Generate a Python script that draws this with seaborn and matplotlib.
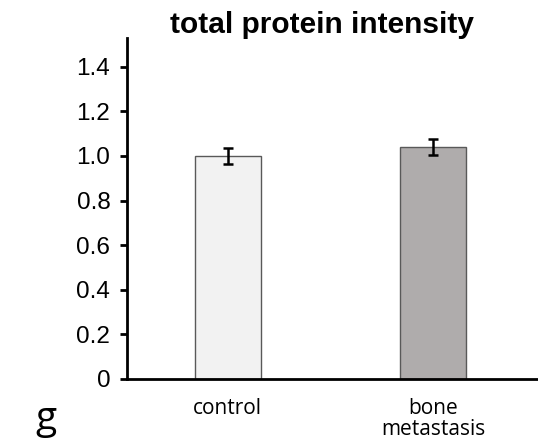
import matplotlib
matplotlib.use("Agg")
import matplotlib.pyplot as plt
import seaborn as sns
import pandas as pd

groups = ["control", "bone\nmetastasis"]
means = [1.0, 1.04]
errors = [0.035, 0.034]
colors = ["#f2f2f2", "#afabab"]

sns.set_style("white")
plt.rcParams['font.family'] = ['Liberation Sans', 'DejaVu Sans']
plt.rcParams['text.color'] = 'black'
plt.rcParams['xtick.color'] = 'black'
plt.rcParams['ytick.color'] = 'black'

df = pd.DataFrame({"group": groups, "value": means})

fig = plt.figure(figsize=(5.38, 4.41), dpi=100)
ax = fig.add_axes([0.236, 0.1406, 0.764, 0.774])

sns.barplot(data=df, x="group", y="value", hue="group", palette=colors,
            width=0.32, edgecolor="#595959", linewidth=1.0, legend=False, ax=ax)
ax.errorbar(range(len(groups)), means, yerr=errors, fmt="none",
            ecolor="black", elinewidth=1.8, capsize=3.5, capthick=1.8)

ax.set_xlim(-0.49, 1.51)
ax.set_ylim(0, 1.53)
ax.set_yticks([0, 0.2, 0.4, 0.6, 0.8, 1.0, 1.2, 1.4])
ax.set_yticklabels(["0", "0.2", "0.4", "0.6", "0.8", "1.0", "1.2", "1.4"])
ax.tick_params(axis="y", direction="out", length=5, width=2, labelsize=17.5,
               pad=7, left=True, colors="black")
ax.tick_params(axis="x", length=0, pad=14)
for lbl in ax.get_xticklabels():
    lbl.set_fontfamily("Open Sans")
    lbl.set_fontsize(15)
    lbl.set_linespacing(0.95)
    lbl.set_color("black")
ax.set_xlabel("")
ax.set_ylabel("")

for s in ["top", "right"]:
    ax.spines[s].set_visible(False)
for s in ["left", "bottom"]:
    ax.spines[s].set_linewidth(2)
    ax.spines[s].set_color("black")

fig.text(0.598, 0.925, "total protein intensity", ha="center", va="baseline",
         fontsize=21.5, fontweight="bold", color="black")
fig.text(0.066, 0.028, "g", ha="left", va="baseline", fontsize=28, family="Open Sans",
         color="black")

fig.savefig("out.png", dpi=100)
